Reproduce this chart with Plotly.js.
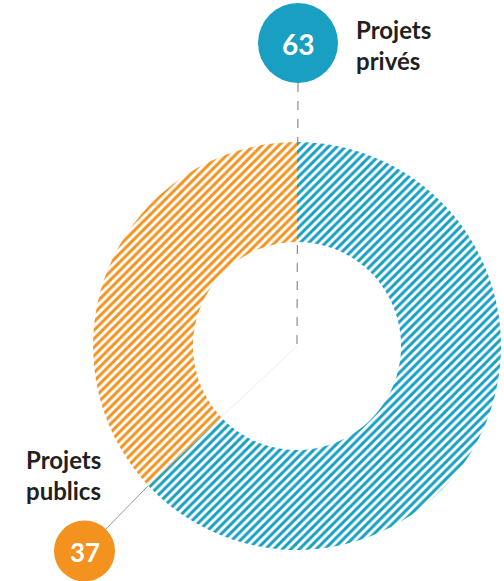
<!DOCTYPE html>
<html><head><meta charset="utf-8">
<script src="https://cdn.plot.ly/plotly-3.0.1.min.js"></script>
<style>html,body{margin:0;padding:0;background:#fff}</style>
</head><body><div id="chart" style="width:504px;height:581px"></div>
<script>
const categories = ["Projets privés", "Projets publics"];
const values = [63, 37];
const colors = ["#189fc2", "#f3921f"];

const W = 504, H = 581;
const cx = 297, cy = 346, R = 204, holeFrac = 0.51;
const px = x => x / W, py = y => 1 - y / H;

const trace = {
  type: "pie",
  labels: categories,
  values: values,
  sort: false,
  direction: "clockwise",
  rotation: 0,
  hole: holeFrac,
  textinfo: "none",
  hoverinfo: "label+value",
  showlegend: false,
  domain: {x: [px(cx - R), px(cx + R)], y: [py(cy + R), py(cy - R)]},
  marker: {
    colors: colors,
    line: {width: 0},
    pattern: {shape: "/", size: 6, solidity: 0.5, fgcolor: colors, bgcolor: "#ffffff"}
  }
};

// boundary angle between first and second slice (clockwise from 12 o'clock)
const total = values.reduce((a, b) => a + b, 0);
const ang = values[0] / total * 2 * Math.PI;
const sx = Math.sin(ang), sy = -Math.cos(ang);
const ptAt = r => [cx + r * sx, cy + r * sy];

const blueC = {x: 298, y: 43, r: 40};
const orC = {x: 84.5, y: 551, r: 30.5};

const inner = ptAt(R * holeFrac), outer = ptAt(R);
const shapes = [
  {type: "line", xref: "paper", yref: "paper", layer: "below",
   x0: px(blueC.x), y0: py(blueC.y + blueC.r), x1: px(cx), y1: py(cy),
   line: {color: "#8c8c8c", width: 1.2, dash: "dash"}},
  {type: "line", xref: "paper", yref: "paper", layer: "below",
   x0: px(cx), y0: py(cy), x1: px(inner[0]), y1: py(inner[1]),
   line: {color: "#ececec", width: 1}},
  {type: "line", xref: "paper", yref: "paper", layer: "below",
   x0: px(outer[0]), y0: py(outer[1]), x1: px(orC.x), y1: py(orC.y),
   line: {color: "#9a9a9a", width: 1}},
  {type: "circle", xref: "paper", yref: "paper", layer: "above",
   x0: px(blueC.x - blueC.r), x1: px(blueC.x + blueC.r), y0: py(blueC.y + blueC.r), y1: py(blueC.y - blueC.r),
   fillcolor: colors[0], line: {width: 0}},
  {type: "circle", xref: "paper", yref: "paper", layer: "above",
   x0: px(orC.x - orC.r), x1: px(orC.x + orC.r), y0: py(orC.y + orC.r), y1: py(orC.y - orC.r),
   fillcolor: colors[1], line: {width: 0}}
];

const font = "Lato, Open Sans, sans-serif";
const annotations = [
  {xref: "paper", yref: "paper", x: px(blueC.x), y: py(blueC.y + 1), text: String(values[0]),
   showarrow: false, xanchor: "center", yanchor: "middle",
   font: {family: font, size: 28, color: "#ffffff", weight: "bold"}},
  {xref: "paper", yref: "paper", x: px(orC.x), y: py(orC.y + 1), text: String(values[1]),
   showarrow: false, xanchor: "center", yanchor: "middle",
   font: {family: font, size: 26, color: "#ffffff", weight: "bold"}},
  {xref: "paper", yref: "paper", x: px(354), y: py(13), text: "Projets<br>privés",
   showarrow: false, xanchor: "left", yanchor: "top", align: "left",
   font: {family: font, size: 24, color: "#231f20", weight: "bold"}},
  {xref: "paper", yref: "paper", x: px(24), y: py(443), text: "Projets<br>publics",
   showarrow: false, xanchor: "left", yanchor: "top", align: "left",
   font: {family: font, size: 24, color: "#231f20", weight: "bold"}}
];

Plotly.newPlot("chart", [trace], {
  width: W, height: H,
  margin: {l: 0, r: 0, t: 0, b: 0},
  paper_bgcolor: "#ffffff", plot_bgcolor: "#ffffff",
  shapes: shapes, annotations: annotations
}, {displayModeBar: false, staticPlot: true});
</script></body></html>
